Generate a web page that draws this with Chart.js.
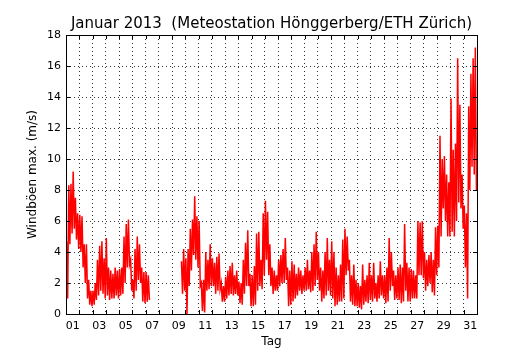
<!DOCTYPE html>
<html>
<head>
<meta charset="utf-8">
<script src="https://cdn.jsdelivr.net/npm/chart.js@4"></script>
<style>
  body { margin: 0; background: #fff; }
</style>
</head>
<body>
<canvas id="windChart" width="530" height="350"></canvas>
<script>
// wind gusts, January 2013 - one high/low pair per 4 hour slot (6 per day), null = no data
const slotsPerDay = 6;
const gustHigh = [
  4.7, 8.3, 8.4, 9.2, 7.5, 6.5,
  6.4, 6.3, 4.5, 4.5, 2.2, 1.5,
  1.5, 2.0, 3.5, 4.4, 4.7, 3.6,
  4.9, 3.0, 2.8, 2.6, 3.0, 2.8,
  2.9, 3.0, 5.0, 5.8, 6.1, 3.5,
  2.2, 4.2, 5.0, 4.5, 3.0, 2.7,
  2.7, 2.5, null, null, null, null,
  null, null, null, null, null, null,
  null, null, null, null, 3.4, 4.2,
  3.6, 4.2, 5.5, 6.1, 7.6, 6.3,
  6.0, 2.0, 2.2, 4.0, 3.5, 4.5,
  3.6, 3.3, 3.7, 3.9, 2.0, 1.8,
  2.4, 2.8, 3.1, 3.3, 2.5, 2.8,
  2.1, 2.0, 3.5, 4.6, 5.4, 2.6,
  2.5, 3.1, 5.2, 5.3, 3.5, 6.5,
  7.3, 6.6, 4.5, 3.0, 2.8, 2.5,
  3.5, 3.8, 4.2, 4.9, 3.0, 2.8,
  3.4, 3.2, 2.6, 3.0, 2.8, 2.5,
  3.0, 3.5, 2.8, 4.0, 4.5, 5.3,
  4.0, 3.0, 2.8, 4.0, 4.9, 3.5,
  4.7, 4.0, 3.0, 2.5, 3.2, 4.8,
  5.5, 5.0, 3.5, 2.5, 3.2, 2.2,
  2.0, 1.8, 3.2, 2.2, 2.5, 3.3,
  2.5, 3.3, 2.0, 2.5, 3.4, 2.5,
  2.5, 3.0, 4.9, 4.0, 2.8, 2.5,
  3.0, 3.2, 3.0, 5.8, 3.3, 3.0,
  2.9, 2.8, 2.5, 6.0, 5.9, 6.0,
  4.0, 3.5, 3.8, 4.0, 3.5, 5.6,
  5.7, 11.5, 10.0, 10.2, 9.0, 8.5,
  13.9, 10.6, 11.0, 16.5, 13.5, 9.0,
  7.0, 6.5, 13.4, 15.5, 16.5, 17.2
];
const gustLow = [
  1.0, 4.5, 5.2, 5.5, 4.8, 4.2,
  4.0, 3.0, 2.0, 1.0, 0.6, 0.5,
  0.6, 0.9, 1.2, 1.5, 1.3, 1.0,
  1.2, 0.9, 1.0, 1.0, 1.2, 1.0,
  1.2, 1.3, 2.0, 3.0, 3.2, 1.5,
  1.0, 1.5, 2.2, 2.0, 0.8, 0.7,
  0.8, 0.9, null, null, null, null,
  null, null, null, null, null, null,
  null, null, null, null, 1.3, 1.5,
  0.0, 1.8, 2.8, 3.8, 3.5, 3.0,
  1.8, 0.2, 0.1, 1.5, 1.6, 1.8,
  1.8, 1.3, 1.5, 1.6, 0.8, 0.8,
  1.0, 1.2, 1.3, 1.2, 1.3, 1.2,
  0.7, 0.6, 1.3, 1.8, 1.8, 0.5,
  0.5, 0.6, 1.5, 1.8, 1.6, 2.5,
  3.5, 2.5, 1.8, 1.3, 1.5, 1.5,
  1.8, 2.0, 2.0, 2.2, 0.5, 0.6,
  0.8, 1.0, 1.2, 1.5, 1.3, 1.5,
  1.5, 1.6, 1.4, 1.5, 1.8, 2.2,
  1.5, 0.8, 1.0, 1.2, 1.5, 1.2,
  1.0, 0.5, 0.6, 0.8, 0.8, 1.0,
  2.5, 2.8, 0.8, 0.6, 0.5, 0.5,
  0.4, 0.3, 0.6, 0.8, 0.7, 0.9,
  0.8, 1.0, 0.8, 1.0, 1.2, 1.0,
  0.7, 0.8, 1.5, 1.8, 0.9, 1.0,
  0.9, 0.7, 0.8, 1.5, 0.8, 0.8,
  1.0, 1.0, 1.0, 2.5, 2.5, 2.3,
  1.5, 1.8, 2.0, 1.4, 1.2, 2.5,
  3.0, 5.0, 6.8, 6.0, 5.0, 5.0,
  5.3, 5.0, 6.0, 7.2, 6.8, 5.5,
  3.0, 1.0, 8.0, 9.5, 9.0, 8.0
];
const yTicks = [0, 2, 4, 6, 8, 10, 12, 14, 16, 18];
const dayCount = 31;

// high/low of each slot become two points inside the slot
const points = [];
gustHigh.forEach((hi, i) => {
  const t = i / slotsPerDay;
  if (hi === null) {
    points.push({ x: t + 0.08, y: null });
    return;
  }
  points.push({ x: t + 1 / 24, y: hi });
  points.push({ x: t + 3 / 24, y: gustLow[i] });
});

// ticks every half day: grid at day borders, labels at noon of odd days
const dayTicks = [];
for (let v = 0; v <= dayCount; v += 0.5) dayTicks.push(v);

Chart.defaults.font.family = 'DejaVu Sans';
Chart.defaults.color = '#000';

const frame = {
  id: 'frame',
  afterDraw(chart) {
    const { ctx, chartArea: a, scales } = chart;
    ctx.save();
    ctx.strokeStyle = '#000';
    ctx.lineWidth = 1;
    ctx.setLineDash([]);
    ctx.beginPath();
    for (let d = 1; d < dayCount; d++) {
      const x = Math.round(scales.x.getPixelForValue(d)) + 0.5;
      ctx.moveTo(x, a.bottom); ctx.lineTo(x, a.bottom - 4);
      ctx.moveTo(x, a.top); ctx.lineTo(x, a.top + 4);
    }
    yTicks.forEach(v => {
      const y = Math.round(scales.y.getPixelForValue(v)) + 0.5;
      ctx.moveTo(a.left, y); ctx.lineTo(a.left + 4, y);
      ctx.moveTo(a.right, y); ctx.lineTo(a.right - 4, y);
    });
    ctx.stroke();
    ctx.strokeRect(Math.round(a.left) + 0.5, Math.round(a.top) + 0.5,
      Math.round(a.right - a.left), Math.round(a.bottom - a.top));
    ctx.restore();
  }
};

new Chart(document.getElementById('windChart'), {
  type: 'line',
  data: {
    datasets: [{
      data: points,
      borderColor: '#ff0000',
      borderWidth: 1.5,
      pointRadius: 0,
      tension: 0,
      spanGaps: false
    }]
  },
  options: {
    responsive: false,
    animation: false,
    layout: { padding: { left: 0, right: 53, top: 0, bottom: 0 } },
    plugins: {
      legend: { display: false },
      tooltip: { enabled: false },
      title: {
        display: true,
        fullSize: false,
        text: 'Januar 2013  (Meteostation Hönggerberg/ETH Zürich)',
        font: { size: 15, weight: 'normal' },
        color: '#000',
        padding: { top: 15, bottom: 2 }
      }
    },
    scales: {
      x: {
        type: 'linear',
        min: 0,
        max: dayCount,
        afterBuildTicks: s => { s.ticks = dayTicks.map(v => ({ value: v })); },
        afterFit: s => { s.height = 36; },
        ticks: {
          autoSkip: false,
          maxRotation: 0,
          padding: 6,
          font: { size: 11 },
          callback: v => (v % 1 === 0.5 && Math.floor(v) % 2 === 0)
            ? String(Math.floor(v) + 1).padStart(2, '0') : ''
        },
        grid: {
          drawTicks: false,
          lineWidth: 1,
          color: c => (c.tick && c.tick.value % 1 === 0 && c.tick.value > 0 && c.tick.value < dayCount)
            ? 'rgba(0,0,0,0.8)' : 'transparent'
        },
        border: { display: false, dash: [1, 3] },
        title: { display: true, text: 'Tag', font: { size: 12 }, padding: { top: 0, bottom: 1 } }
      },
      y: {
        min: 0,
        max: 18,
        afterBuildTicks: s => { s.ticks = yTicks.map(v => ({ value: v })); },
        afterFit: s => { s.width = 66; },
        ticks: { padding: 5, font: { size: 11 } },
        grid: {
          drawTicks: false,
          lineWidth: 1,
          color: c => (c.tick && c.tick.value > 0 && c.tick.value < 18) ? 'rgba(0,0,0,0.8)' : 'transparent'
        },
        border: { display: false, dash: [1, 3] },
        title: { display: true, text: 'Windböen max. (m/s)', font: { size: 12 }, padding: { top: 26, bottom: 0 } }
      }
    }
  },
  plugins: [frame]
});
</script>
</body>
</html>
